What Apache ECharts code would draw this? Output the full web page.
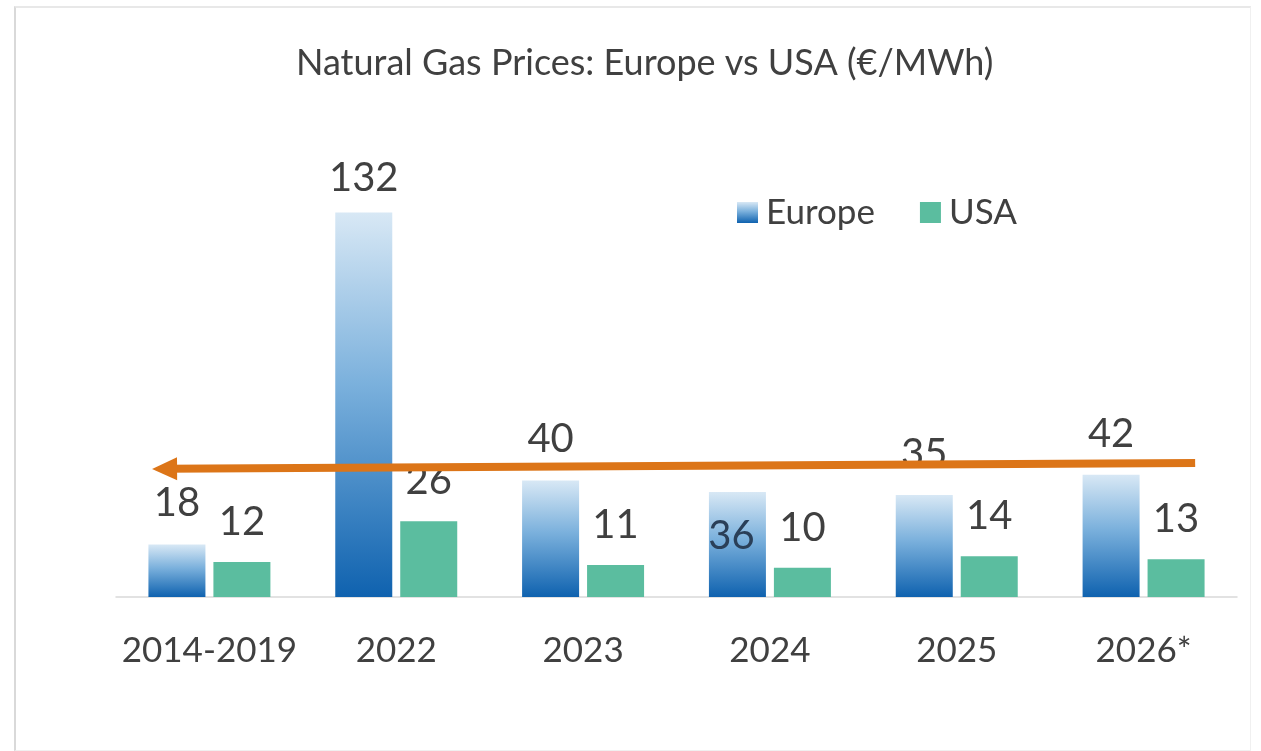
<!DOCTYPE html>
<html>
<head>
<meta charset="utf-8">
<title>Natural Gas Prices</title>
<script src="https://cdn.jsdelivr.net/npm/echarts@6/dist/echarts.min.js"></script>
<style>
  html, body { margin: 0; padding: 0; background: #fff; }
  #frame { position: absolute; left: 14px; top: 6px; width: 1234px; height: 742px;
    border-left: 2px solid #d9d9d9; border-top: 2px solid #e8e8e8; border-right: 1px solid #f0f0f0; border-bottom: 1px solid #f0f0f0; }
  #main { position: absolute; left: 0; top: 0; width: 1261px; height: 751px; }
</style>
</head>
<body>
<div id="frame"></div>
<div id="main"></div>
<script>
// data
var categories = ['2014-2019', '2022', '2023', '2024', '2025', '2026*']
var europe = [18, 132, 40, 36, 35, 42]
var usa = [12, 26, 11, 10, 14, 13]
// orange trend arrow, [category position, value], from right end to arrow tip
var arrowFrom = [5.276, 46]
var arrowTo = [-0.24, 44]

var textColor = '#404040'
var font = 'Lato'

var europeColor = new echarts.graphic.LinearGradient(0, 0, 0, 1, [
  { offset: 0, color: '#d8e8f5' },
  { offset: 0.45, color: '#7ab0dc' },
  { offset: 1, color: '#0f62af' }
])

// per-bar label tweaks (132 sits a bit closer, 36 is drawn inside the bar)
var europeData = europe.map(function(v, i) {
  if (i === 1) return { value: v, label: { distance: 14 } }
  if (i === 3) return { value: v, label: { position: 'insideTop', distance: 24, offset: [-6, 0], color: '#2a3f58' } }
  return v
})

var myChart = echarts.init(document.getElementById('main'))
var option = {
  backgroundColor: 'transparent',
  title: {
    text: 'Natural Gas Prices: Europe vs USA (€/MWh)',
    left: 291,
    top: 40,
    textStyle: { fontFamily: font, fontSize: 36, fontWeight: 'normal', color: textColor }
  },
  legend: {
    data: ['Europe', 'USA'],
    left: 732,
    top: 190,
    icon: 'rect',
    itemWidth: 21,
    itemHeight: 21,
    itemGap: 45,
    textStyle: { fontFamily: font, fontSize: 35, color: textColor, padding: [0, 0, 0, 3] }
  },
  grid: { left: 116, right: 24, top: 160, bottom: 154 },
  xAxis: [
    {
      type: 'category',
      data: categories,
      axisLine: { lineStyle: { color: '#d9d9d9', width: 1.5 } },
      axisTick: { show: false },
      axisLabel: { interval: 0, fontFamily: font, fontSize: 35, color: textColor, margin: 36 }
    },
    { type: 'value', min: -0.5, max: 5.5, show: false }
  ],
  yAxis: { type: 'value', min: 0, max: 150, show: false, splitLine: { show: false } },
  series: [
    {
      name: 'Europe',
      type: 'bar',
      barWidth: 57,
      barGap: '14%',
      itemStyle: { color: europeColor },
      label: { show: true, position: 'top', distance: 21, fontFamily: font, fontSize: 40, color: textColor },
      data: europeData
    },
    {
      name: 'USA',
      type: 'bar',
      barWidth: 57,
      itemStyle: { color: '#5bbd9f' },
      label: { show: true, position: 'top', distance: 20, fontFamily: font, fontSize: 40, color: textColor },
      data: usa
    },
    {
      name: 'trend',
      type: 'line',
      xAxisIndex: 1,
      z: 10,
      silent: true,
      symbol: 'none',
      lineStyle: { opacity: 0 },
      data: [arrowFrom, arrowTo],
      markLine: {
        silent: true,
        symbol: ['none', 'triangle'],
        symbolSize: [23, 25],
        label: { show: false },
        lineStyle: { color: '#dc7518', width: 8, type: 'solid' },
        emphasis: { disabled: true },
        data: [[{ coord: arrowFrom }, { coord: arrowTo }]]
      }
    }
  ]
}
myChart.setOption(option)
</script>
</body>
</html>
